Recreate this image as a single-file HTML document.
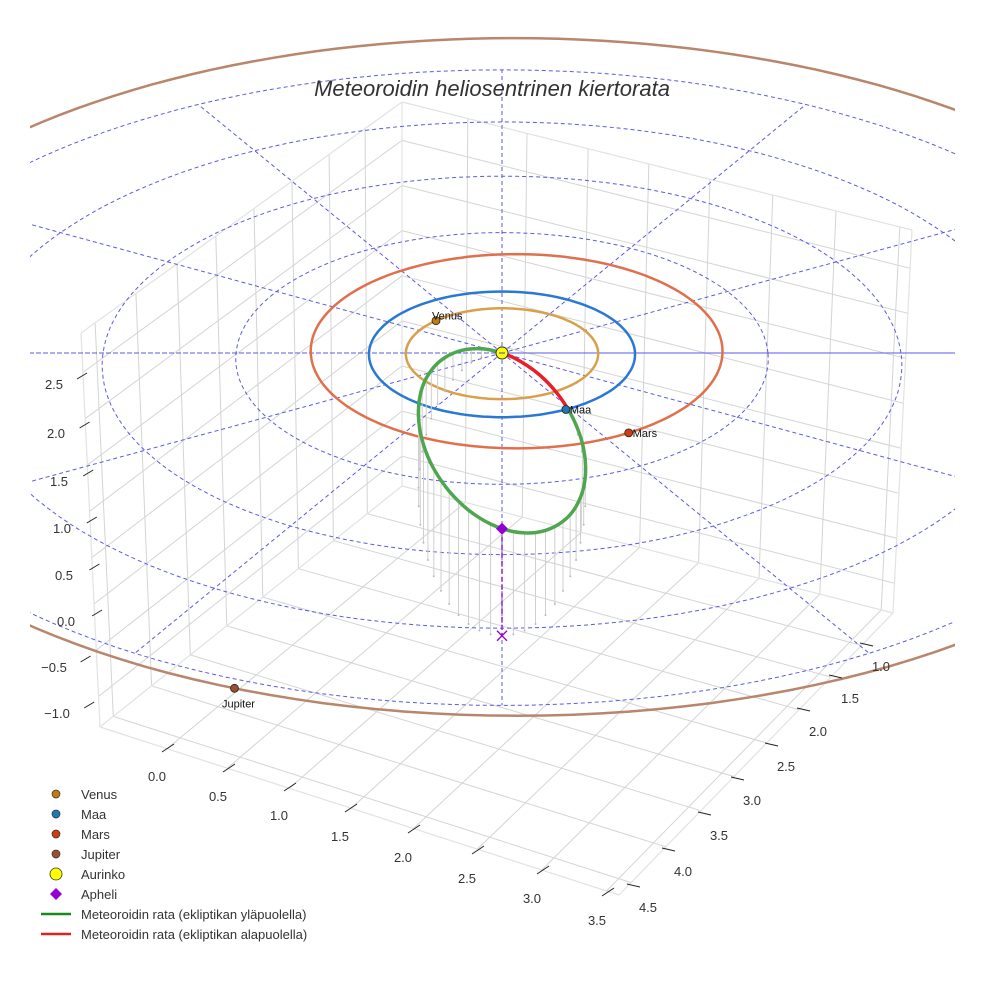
<!DOCTYPE html>
<html><head><meta charset="utf-8">
<style>
html,body{margin:0;padding:0;background:#fff;}
svg{display:block;font-family:"Liberation Sans",sans-serif;}
</style></head>
<body>
<svg id="chart" width="984" height="984" viewBox="0 0 984 984" xmlns="http://www.w3.org/2000/svg">
<defs><clipPath id="clip"><rect x="30" y="0" width="925" height="984"/></clipPath></defs>
<rect width="984" height="984" fill="#fff"/>
<g id="grid"></g>
<g id="ecl" clip-path="url(#clip)"></g>
<g id="orbits" clip-path="url(#clip)"></g>
<g id="met"></g>
<g id="marks"></g>
<g id="ticks"></g>
<text x="492" y="96" text-anchor="middle" font-size="22" font-style="italic" fill="#333">Meteoroidin heliosentrinen kiertorata</text>
<g id="legend"></g>
</svg>
<script>
// ---- data ----
const planetNames = ["Venus","Maa","Mars","Jupiter"];
const planetRadii = [0.723, 1.0, 1.55, 5.38];
const planetCenterX = [0, 0, 0.11, 0.10];
const planetCenterY = [0, 0, 0.08, 0.25];
const planetAngles = [134, -61.9, -58.2, -110.7];
const planetOrbitColors = ["#d9a04a", "#2a78d6", "#e0704c", "#b8866c"];
const planetMarkerColors = ["#c07a10", "#1f77b4", "#cc3d10", "#9a5030"];
const ringRadii = [1, 2, 3, 4, 5];
const radialAngles = [0, 30, 60, 90, 120, 150, 180, 210, 240, 270, 300, 330];
// meteoroid orbit samples (AU): X, Y in ecliptic, Z height
const orbitX = [0, 0.078, 0.155, 0.230, 0.300, 0.365, 0.424, 0.476, 0.520, 0.554, 0.580, 0.595, 0.600, 0.595, 0.580, 0.554, 0.520, 0.476, 0.424, 0.365, 0.300, 0.230, 0.155, 0.078, 0, -0.078, -0.155, -0.230, -0.300, -0.365, -0.424, -0.476, -0.520, -0.554, -0.580, -0.595, -0.600, -0.595, -0.580, -0.554, -0.520, -0.476, -0.424, -0.365, -0.300, -0.230, -0.155, -0.078, 0];
const orbitY = [0, -0.018, -0.070, -0.156, -0.275, -0.424, -0.601, -0.802, -1.025, -1.265, -1.519, -1.782, -2.050, -2.318, -2.581, -2.835, -3.075, -3.298, -3.499, -3.676, -3.825, -3.944, -4.030, -4.082, -4.100, -4.082, -4.030, -3.944, -3.825, -3.676, -3.499, -3.298, -3.075, -2.835, -2.581, -2.318, -2.050, -1.782, -1.519, -1.265, -1.025, -0.802, -0.601, -0.424, -0.275, -0.156, -0.070, -0.018, 0];
const orbitZ = [0, -0.032, -0.056, -0.070, -0.072, -0.066, -0.049, -0.023, 0.013, 0.057, 0.109, 0.169, 0.235, 0.304, 0.378, 0.454, 0.532, 0.608, 0.684, 0.757, 0.826, 0.889, 0.947, 0.996, 1.037, 1.070, 1.093, 1.107, 1.110, 1.103, 1.086, 1.060, 1.024, 0.980, 0.928, 0.868, 0.803, 0.733, 0.659, 0.583, 0.505, 0.429, 0.353, 0.280, 0.212, 0.148, 0.091, 0.042, 0];
const aphelionIndex = 24;
const zTicks = ["2.5","2.0","1.5","1.0","0.5","0.0","−0.5","−1.0"];
const xTicks = ["0.0","0.5","1.0","1.5","2.0","2.5","3.0","3.5"];
const yTicks = ["1.0","1.5","2.0","2.5","3.0","3.5","4.0","4.5"];
const legendLabels = ["Venus","Maa","Mars","Jupiter","Aurinko","Apheli","Meteoroidin rata (ekliptikan yläpuolella)","Meteoroidin rata (ekliptikan alapuolella)"];

// ---- projection ----
const CX=502, CY=353, KX=133, KY=62.8, KZ=94, P=0.0218;
function proj(X,Y,Z){const s=1/(1+P*Y);return [CX+KX*X*s, CY-(KY*Y+KZ*Z)*s];}
const NS="http://www.w3.org/2000/svg";
function mk(parent,tag,attrs){const e=document.createElementNS(NS,tag);for(const k in attrs)e.setAttribute(k,attrs[k]);parent.appendChild(e);return e;}
function line(g,a,b,stroke,w,dash){const l=mk(g,"line",{x1:a[0].toFixed(1),y1:a[1].toFixed(1),x2:b[0].toFixed(1),y2:b[1].toFixed(1),stroke:stroke,"stroke-width":w});if(dash)l.setAttribute("stroke-dasharray",dash);return l;}
function lerp(a,b,t){return [a[0]+(b[0]-a[0])*t,a[1]+(b[1]-a[1])*t];}

// ---- scene box grid ----
const G=document.getElementById("grid");
const L=[100,727],B=[402,486],R=[893,613],F=[619,895];
const Lt=[81,333],Bt=[402,102],Rt=[912,230];
function floorPt(u,w){const a=lerp(L,B,u),b=lerp(F,R,u);return lerp(a,b,w);}
const leftFr=[0.044,0.171,0.299,0.42,0.539,0.657,0.773,0.885];
const rightFr=[0.129,0.245,0.365,0.484,0.604,0.727,0.851,0.976];
const gc="#d4d4d4";
leftFr.forEach(u=>{let l=line(G,floorPt(u,0),lerp(Lt,Bt,u),gc,1);
 l=line(G,floorPt(u,0),floorPt(u,1),gc,1);});
rightFr.forEach(w=>{let l=line(G,floorPt(1,w),lerp(Bt,Rt,w),gc,1);
 l=line(G,floorPt(1,w),floorPt(0,w),gc,1);});
for(let k=0;k<8;k++){const f=0.1+k*0.1175;
 let l=line(G,lerp(Lt,L,f),lerp(Bt,B,f),gc,1);
 l=line(G,lerp(Bt,B,f),lerp(Rt,R,f),gc,1);}
[[L,B],[B,R],[R,F],[F,L],[L,Lt],[B,Bt],[R,Rt],[Lt,Bt],[Bt,Rt]].forEach(e=>{const l=line(G,e[0],e[1],"#e2e2e2",1.2);});

// ---- ecliptic dashed grid ----
const E=document.getElementById("ecl");
function ringPath(cxo,cyo,r){let d="";for(let i=0;i<=180;i++){const t=i/180*2*Math.PI;const p=proj(cxo+r*Math.cos(t),cyo+r*Math.sin(t),0);d+=(i?"L":"M")+p[0].toFixed(1)+","+p[1].toFixed(1);}return d;}
ringRadii.forEach(r=>{const p=mk(E,"path",{d:ringPath(0,0,r),fill:"none",stroke:"#5a5ae6","stroke-width":1,"stroke-dasharray":"4,3"});
 });
radialAngles.forEach(a=>{const t=a*Math.PI/180;const l=line(E,proj(0,0,0),proj(5*Math.cos(t),5*Math.sin(t),0),"#5a5ae6",1,"4,3");
 });
{const l=line(E,[30,CY],[955,CY],"#5a5ae6",1,"4,3");}

// ---- planet orbits ----
const O=document.getElementById("orbits");
planetNames.forEach((n,i)=>{const p=mk(O,"path",{d:ringPath(planetCenterX[i],planetCenterY[i],planetRadii[i]),fill:"none",stroke:planetOrbitColors[i],"stroke-width":2.5});
 });

// ---- meteoroid orbit ----
const M=document.getElementById("met");
const pts=orbitX.map((x,i)=>proj(x,orbitY[i],orbitZ[i]));
const shadows=orbitX.map((x,i)=>proj(x,orbitY[i],0));
pts.forEach((p,i)=>{if(orbitZ[i]>0.05&&i!==aphelionIndex){const l=line(M,p,shadows[i],"#cfcfcf",1);
 const c=mk(M,"circle",{cx:shadows[i][0].toFixed(1),cy:shadows[i][1].toFixed(1),r:1,fill:"#bbb"});}});
function smooth(arr){let d="M"+arr[0][0].toFixed(1)+","+arr[0][1].toFixed(1);
 for(let i=0;i<arr.length-1;i++){const p0=arr[Math.max(0,i-1)],p1=arr[i],p2=arr[i+1],p3=arr[Math.min(arr.length-1,i+2)];
 const c1=[p1[0]+(p2[0]-p0[0])/6,p1[1]+(p2[1]-p0[1])/6],c2=[p2[0]-(p3[0]-p1[0])/6,p2[1]-(p3[1]-p1[1])/6];
 d+="C"+c1[0].toFixed(1)+","+c1[1].toFixed(1)+" "+c2[0].toFixed(1)+","+c2[1].toFixed(1)+" "+p2[0].toFixed(1)+","+p2[1].toFixed(1);}return d;}
const firstAbove=orbitZ.findIndex((z,i)=>i>0&&z>0);
const above=pts.slice(firstAbove-1);
{const p=mk(M,"path",{d:smooth(above),fill:"none",stroke:"#4ea64e","stroke-width":3.5});}
{const p=mk(M,"path",{d:smooth(pts.slice(0,firstAbove)),fill:"none",stroke:"#e81e28","stroke-width":3.5});}
const ap=pts[aphelionIndex],aps=shadows[aphelionIndex];
{const l=line(M,ap,aps,"#9b19c9",1.5,"5,3");}

// ---- markers ----
const K=document.getElementById("marks");
planetNames.forEach((n,i)=>{const t=planetAngles[i]*Math.PI/180;const p=proj(planetCenterX[i]+planetRadii[i]*Math.cos(t),planetCenterY[i]+planetRadii[i]*Math.sin(t),0);
 const c=mk(K,"circle",{cx:p[0].toFixed(1),cy:p[1].toFixed(1),r:4,fill:planetMarkerColors[i],stroke:"#222","stroke-width":0.8});
 
 let tx;
 if(n==="Jupiter")tx=mk(K,"text",{x:p[0]+4,y:p[1]+19,"text-anchor":"middle","font-size":11,fill:"#111"});
 else if(n==="Venus")tx=mk(K,"text",{x:p[0]-4,y:p[1]-1,"font-size":11,fill:"#111"});
 else tx=mk(K,"text",{x:p[0]+4,y:p[1]+4,"font-size":11,fill:"#111"});
 tx.textContent=n;});
{const s=proj(0,0,0);const c=mk(K,"circle",{cx:s[0],cy:s[1],r:6,fill:"#ffff00",stroke:"#333","stroke-width":1});
 const l=line(K,[s[0]-3,s[1]],[s[0]+3,s[1]],"#5a5ae6",1.2);}
{const d=mk(K,"path",{d:`M${ap[0]},${ap[1]-6}L${ap[0]+6},${ap[1]}L${ap[0]},${ap[1]+6}L${ap[0]-6},${ap[1]}Z`,fill:"#9400d3"});
 const x=mk(K,"path",{d:`M${aps[0]-5},${aps[1]-5}L${aps[0]+5},${aps[1]+5}M${aps[0]+5},${aps[1]-5}L${aps[0]-5},${aps[1]+5}`,stroke:"#9400d3","stroke-width":1.3,fill:"none"});}

// ---- ticks ----
const T=document.getElementById("ticks");
const zPos=[[54,384],[56,433],[59,481],[62,528],[64,575],[66,621],[54,667],[57,713]];
const xPos=[[157,776],[218,796],[279,815],[340,836],[403,857],[467,878],[532,898],[597,920]];
const yPos=[[881,666],[850,698],[818,731],[786,766],[752,800],[719,835],[683,871],[648,907]];
function tickLabel(txt,pos,off1,off2,name){const l=line(T,[pos[0]+off1[0],pos[1]+off1[1]],[pos[0]+off2[0],pos[1]+off2[1]],"#222",1);
 
 const t=mk(T,"text",{x:pos[0],y:pos[1]+5,"text-anchor":"middle","font-size":13,fill:"#333"});t.textContent=txt;
 }
zTicks.forEach((v,i)=>tickLabel(v,zPos[i],[23+i*0.6,-5],[33+i*0.6,-11],'z-axis'));
xTicks.forEach((v,i)=>tickLabel(v,xPos[i],[5,-24],[17,-32],'x-axis'));
yTicks.forEach((v,i)=>tickLabel(v,yPos[i],[-21,-23],[-8,-20],'y-axis'));

// ---- legend ----
const LG=document.getElementById("legend");
const legendKinds=["dot","dot","dot","dot","sun","diamond","line","line"];
const legendColors=["#c07a10","#1f77b4","#cc3d10","#9a5030","#ffff00","#9400d3","#1a8a1a","#e02020"];
legendLabels.forEach((lab,i)=>{const y=794+i*20;const g=mk(LG,"g",{});
 
 const k=legendKinds[i];
 if(k==="dot")mk(g,"circle",{cx:56,cy:y,r:4,fill:legendColors[i],stroke:"#333","stroke-width":0.7});
 else if(k==="sun")mk(g,"circle",{cx:56,cy:y,r:6,fill:legendColors[i],stroke:"#333","stroke-width":0.8});
 else if(k==="diamond")mk(g,"path",{d:`M56,${y-6}L62,${y}L56,${y+6}L50,${y}Z`,fill:legendColors[i]});
 else mk(g,"line",{x1:41,y1:y,x2:71,y2:y,stroke:legendColors[i],"stroke-width":2.5});
 const t=mk(g,"text",{x:81,y:y+5,"font-size":13,fill:"#333"});t.textContent=lab;});
</script>
</body></html>
